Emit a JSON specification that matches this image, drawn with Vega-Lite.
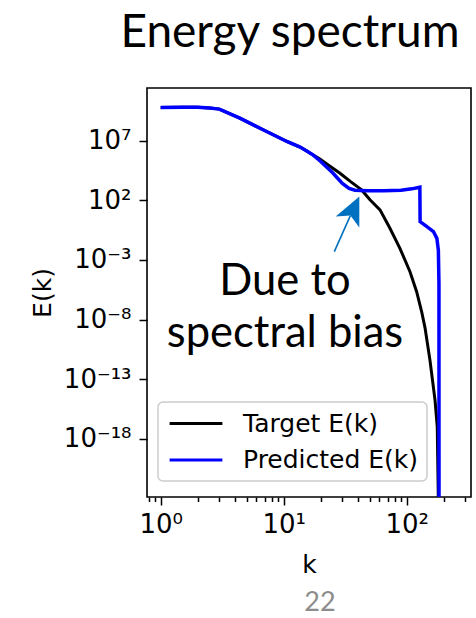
{
  "$schema": "https://vega.github.io/schema/vega-lite/v6.json",
  "width": 324,
  "height": 409,
  "autosize": {"type": "none"},
  "padding": {"left": 147, "top": 88, "right": 5, "bottom": 121},
  "background": "#ffffff",
  "title": {
    "text": "Energy spectrum",
    "font": "Lato",
    "fontSize": 46,
    "fontWeight": "normal",
    "color": "#000000",
    "anchor": "middle",
    "baseline": "alphabetic",
    "dx": -19,
    "offset": -5
  },
  "datasets": {
    "spectra": [
      {"k": 1, "E": 5.89e9, "series": "Target E(k)"},
      {"k": 1.5, "E": 6.03e9, "series": "Target E(k)"},
      {"k": 2, "E": 6.03e9, "series": "Target E(k)"},
      {"k": 2.5, "E": 5.37e9, "series": "Target E(k)"},
      {"k": 3, "E": 4.27e9, "series": "Target E(k)"},
      {"k": 4.4, "E": 7.59e8, "series": "Target E(k)"},
      {"k": 6.8, "E": 7.94e7, "series": "Target E(k)"},
      {"k": 10.6, "E": 8.32e6, "series": "Target E(k)"},
      {"k": 13.6, "E": 2.82e6, "series": "Target E(k)"},
      {"k": 15.4, "E": 1.32e6, "series": "Target E(k)"},
      {"k": 17.4, "E": 6.03e5, "series": "Target E(k)"},
      {"k": 19.7, "E": 2.82e5, "series": "Target E(k)"},
      {"k": 23, "E": 8.91e4, "series": "Target E(k)"},
      {"k": 28.7, "E": 1.82e4, "series": "Target E(k)"},
      {"k": 35, "E": 3.55e3, "series": "Target E(k)"},
      {"k": 43, "E": 724, "series": "Target E(k)"},
      {"k": 50.3, "E": 107, "series": "Target E(k)"},
      {"k": 60.7, "E": 15.5, "series": "Target E(k)"},
      {"k": 73.1, "E": 0.447, "series": "Target E(k)"},
      {"k": 88.1, "E": 9.33e-3, "series": "Target E(k)"},
      {"k": 106.4, "E": 1.02e-4, "series": "Target E(k)"},
      {"k": 120.5, "E": 2.14e-6, "series": "Target E(k)"},
      {"k": 132.4, "E": 4.47e-8, "series": "Target E(k)"},
      {"k": 141, "E": 2.0e-9, "series": "Target E(k)"},
      {"k": 154.6, "E": 3.98e-12, "series": "Target E(k)"},
      {"k": 170, "E": 1.78e-15, "series": "Target E(k)"},
      {"k": 177.3, "E": 1.0e-17, "series": "Target E(k)"},
      {"k": 180.7, "E": 1.35e-23, "series": "Target E(k)"},
      {"k": 181.5, "E": 1.0e-30, "series": "Target E(k)"},
      {"k": 1, "E": 5.89e9, "series": "Predicted E(k)"},
      {"k": 1.5, "E": 6.03e9, "series": "Predicted E(k)"},
      {"k": 2, "E": 6.03e9, "series": "Predicted E(k)"},
      {"k": 2.5, "E": 5.37e9, "series": "Predicted E(k)"},
      {"k": 3, "E": 4.27e9, "series": "Predicted E(k)"},
      {"k": 4.4, "E": 7.59e8, "series": "Predicted E(k)"},
      {"k": 6.8, "E": 7.94e7, "series": "Predicted E(k)"},
      {"k": 10.6, "E": 8.32e6, "series": "Predicted E(k)"},
      {"k": 13.6, "E": 2.82e6, "series": "Predicted E(k)"},
      {"k": 15.4, "E": 1.32e6, "series": "Predicted E(k)"},
      {"k": 17.4, "E": 6.03e5, "series": "Predicted E(k)"},
      {"k": 19.7, "E": 2.0e5, "series": "Predicted E(k)"},
      {"k": 25, "E": 2.0e4, "series": "Predicted E(k)"},
      {"k": 30, "E": 2.51e3, "series": "Predicted E(k)"},
      {"k": 34, "E": 955, "series": "Predicted E(k)"},
      {"k": 38, "E": 676, "series": "Predicted E(k)"},
      {"k": 48, "E": 603, "series": "Predicted E(k)"},
      {"k": 65, "E": 617, "series": "Predicted E(k)"},
      {"k": 90, "E": 692, "series": "Predicted E(k)"},
      {"k": 110, "E": 891, "series": "Predicted E(k)"},
      {"k": 128, "E": 1230, "series": "Predicted E(k)"},
      {"k": 128.6, "E": 1.58, "series": "Predicted E(k)"},
      {"k": 146, "E": 0.617, "series": "Predicted E(k)"},
      {"k": 165, "E": 0.234, "series": "Predicted E(k)"},
      {"k": 176, "E": 0.0631, "series": "Predicted E(k)"},
      {"k": 181, "E": 6.31e-3, "series": "Predicted E(k)"},
      {"k": 183, "E": 1.0e-5, "series": "Predicted E(k)"},
      {"k": 183.3, "E": 1.0e-30, "series": "Predicted E(k)"}
    ]
  },
  "encoding": {
    "x": {
      "field": "k",
      "type": "quantitative",
      "scale": {"type": "log", "domain": [0.774, 333.4], "nice": false},
      "axis": {
        "title": "k",
        "titlePadding": 15,
        "values": [0.8, 0.9, 1, 2, 3, 4, 5, 6, 7, 8, 9, 10, 20, 30, 40, 50, 60, 70, 80, 90, 100, 200, 300],
        "labelExpr": "datum.value == 1 ? '10⁰' : datum.value == 10 ? '10¹' : datum.value == 100 ? '10²' : ''",
        "tickSize": {"condition": {"test": "datum.value == 1 || datum.value == 10 || datum.value == 100", "value": 8}, "value": 4.5},
        "labelPadding": 6,
        "labelOverlap": false,
        "labelFlush": false
      }
    },
    "y": {
      "field": "E",
      "type": "quantitative",
      "scale": {"type": "log", "domain": [1.35e-23, 2.51e11], "nice": false},
      "axis": {
        "title": "E(k)",
        "titlePadding": 8,
        "values": [1e7, 1e2, 1e-3, 1e-8, 1e-13, 1e-18],
        "labelExpr": "datum.value > 1e5 ? '10⁷' : datum.value > 1 ? '10²' : datum.value > 1e-5 ? '10⁻³' : datum.value > 1e-10 ? '10⁻⁸' : datum.value > 1e-15 ? '10⁻¹³' : '10⁻¹⁸'",
        "tickSize": 8,
        "labelPadding": 8,
        "labelOverlap": false,
        "labelFlush": false
      }
    }
  },
  "layer": [
    {
      "data": {"name": "spectra"},
      "transform": [{"filter": "datum.series == 'Target E(k)'"}],
      "mark": {"type": "line", "strokeWidth": 3, "clip": true},
      "encoding": {
        "color": {
          "field": "series",
          "type": "nominal",
          "scale": {"domain": ["Target E(k)", "Predicted E(k)"], "range": ["#000000", "#0000ff"]},
          "legend": {"title": null}
        }
      }
    },
    {
      "data": {"name": "spectra"},
      "transform": [{"filter": "datum.series == 'Predicted E(k)'"}],
      "mark": {"type": "line", "strokeWidth": 3.5, "clip": true},
      "encoding": {
        "color": {"field": "series", "type": "nominal"}
      }
    },
    {
      "data": {"values": [{"k": 25.8, "E": 4.87e-3, "k2": 34.85, "E2": 5.1}]},
      "mark": {"type": "rule", "color": "#0070c0", "strokeWidth": 1.6},
      "encoding": {
        "x2": {"field": "k2"},
        "y2": {"field": "E2"}
      }
    },
    {
      "data": {"values": [{"k": 36.9, "E": 17.3}]},
      "mark": {
        "type": "point",
        "shape": "M0,-1L0.93,1L0,0.5L-0.93,1Z",
        "size": 784,
        "angle": 25,
        "filled": true,
        "color": "#0070c0",
        "opacity": 1,
        "strokeWidth": 0
      }
    },
    {
      "data": {"values": [
        {"k": 10.25, "E": 1.15e-6, "label": "Due to"},
        {"k": 10.25, "E": 4.9e-11, "label": "spectral bias"}
      ]},
      "mark": {"type": "text", "font": "Lato", "fontSize": 43.5, "align": "center", "baseline": "alphabetic", "color": "#000000"},
      "encoding": {"text": {"field": "label"}}
    },
    {
      "data": {"values": [{"k": 19.7, "E": 3.5e-33, "label": "22"}]},
      "mark": {"type": "text", "font": "Lato", "fontSize": 27, "align": "center", "baseline": "alphabetic", "color": "#8c8c8c"},
      "encoding": {"text": {"field": "label"}}
    }
  ],
  "config": {
    "view": {"stroke": "#000000", "strokeWidth": 1.6},
    "axis": {
      "grid": false,
      "domain": false,
      "ticks": true,
      "tickColor": "#000000",
      "tickWidth": 1.5,
      "labelFont": "DejaVu Sans",
      "labelFontSize": 26,
      "labelColor": "#000000",
      "titleFont": "DejaVu Sans",
      "titleFontSize": 25,
      "titleFontWeight": "normal",
      "titleColor": "#000000"
    },
    "legend": {
      "orient": "none",
      "legendX": 11,
      "legendY": 314,
      "symbolType": "M-2.2,0H2.2",
      "symbolSize": 576,
      "symbolStrokeWidth": 3,
      "symbolOffset": 16.5,
      "labelOffset": 33.5,
      "labelLimit": 400,
      "labelFont": "DejaVu Sans",
      "labelFontSize": 25,
      "labelColor": "#000000",
      "padding": 8,
      "rowPadding": 9.5,
      "strokeColor": "#cccccc",
      "strokeWidth": 1.5,
      "fillColor": "#ffffff",
      "cornerRadius": 5
    }
  }
}
